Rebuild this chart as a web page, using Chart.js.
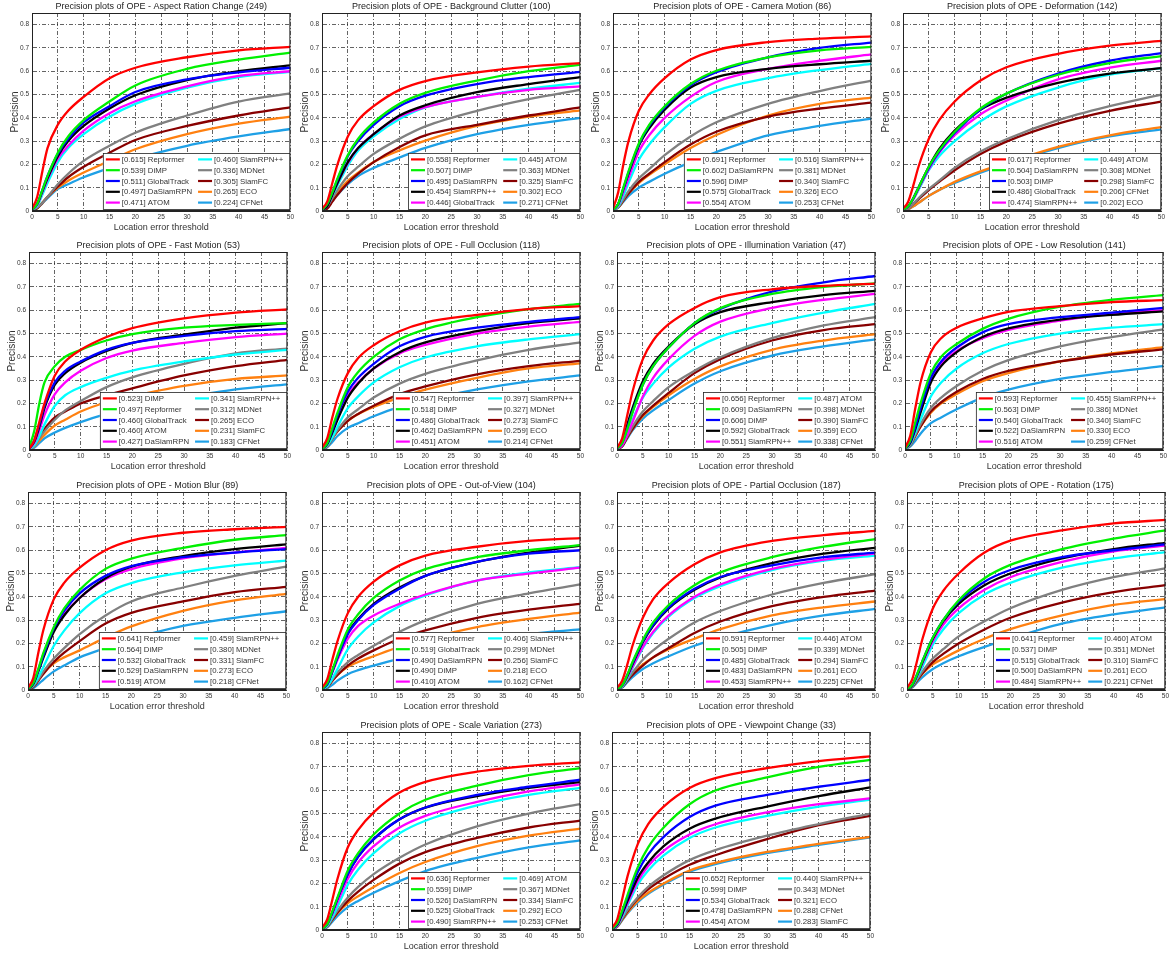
<!DOCTYPE html>
<html lang="en">
<head>
<meta charset="UTF-8" />
<title>Precision plots of OPE</title>
<script src="https://cdn.jsdelivr.net/npm/chart.js"></script>
<style>
  body { margin: 0; background: #fff; }
  #wrap { position: relative; width: 1172px; height: 957px; overflow: hidden; }
  #wrap canvas { position: absolute; }
</style>
</head>
<body>
<div id="wrap"></div>
<script>
const thresholds = [0, 1, 2, 3, 5, 7, 10, 15, 20, 30, 40, 50];

const titles = [
  'Aspect Ration Change (249)', 'Background Clutter (100)', 'Camera Motion (86)', 'Deformation (142)',
  'Fast Motion (53)', 'Full Occlusion (118)', 'Illumination Variation (47)', 'Low Resolution (141)',
  'Motion Blur (89)', 'Out-of-View (104)', 'Partial Occlusion (187)', 'Rotation (175)',
  'Scale Variation (273)', 'Viewpoint Change (33)'
];

// Aspect Ration Change
const arcNames = ['Repformer', 'DiMP', 'GlobalTrack', 'DaSiamRPN', 'ATOM', 'SiamRPN++', 'MDNet', 'SiamFC', 'ECO', 'CFNet'];
const arcScores = [0.615, 0.539, 0.511, 0.497, 0.471, 0.460, 0.336, 0.305, 0.265, 0.224];
const arcCurves = [
  [0.01, 0.06, 0.17, 0.27, 0.37, 0.43, 0.49, 0.57, 0.615, 0.66, 0.69, 0.705],
  [0.005, 0.03, 0.09, 0.15, 0.25, 0.32, 0.39, 0.47, 0.539, 0.61, 0.65, 0.68],
  [0.005, 0.03, 0.09, 0.15, 0.245, 0.31, 0.38, 0.45, 0.511, 0.565, 0.595, 0.615],
  [0.005, 0.03, 0.085, 0.14, 0.235, 0.30, 0.365, 0.44, 0.497, 0.562, 0.60, 0.625],
  [0.005, 0.025, 0.08, 0.135, 0.225, 0.28, 0.345, 0.42, 0.471, 0.535, 0.58, 0.60],
  [0.005, 0.02, 0.07, 0.12, 0.21, 0.27, 0.33, 0.405, 0.46, 0.53, 0.575, 0.597],
  [0.005, 0.015, 0.035, 0.06, 0.115, 0.16, 0.215, 0.28, 0.336, 0.41, 0.47, 0.505],
  [0.005, 0.012, 0.035, 0.06, 0.105, 0.145, 0.19, 0.25, 0.305, 0.365, 0.41, 0.445],
  [0.005, 0.012, 0.035, 0.06, 0.1, 0.13, 0.165, 0.215, 0.265, 0.33, 0.375, 0.405],
  [0.005, 0.012, 0.033, 0.055, 0.095, 0.115, 0.145, 0.185, 0.224, 0.28, 0.32, 0.352]
];

// Background Clutter
const bcNames = ['Repformer', 'DiMP', 'DaSiamRPN', 'SiamRPN++', 'GlobalTrack', 'ATOM', 'MDNet', 'SiamFC', 'ECO', 'CFNet'];
const bcScores = [0.558, 0.507, 0.495, 0.454, 0.446, 0.445, 0.363, 0.325, 0.302, 0.271];
const bcCurves = [
  [0.01, 0.04, 0.12, 0.2, 0.32, 0.39, 0.45, 0.52, 0.558, 0.595, 0.62, 0.635],
  [0.005, 0.03, 0.08, 0.14, 0.24, 0.31, 0.38, 0.46, 0.507, 0.56, 0.60, 0.628],
  [0.005, 0.03, 0.08, 0.135, 0.235, 0.30, 0.37, 0.45, 0.495, 0.545, 0.575, 0.597],
  [0.005, 0.02, 0.07, 0.12, 0.21, 0.27, 0.33, 0.41, 0.454, 0.51, 0.545, 0.575],
  [0.005, 0.02, 0.07, 0.12, 0.205, 0.27, 0.33, 0.405, 0.446, 0.49, 0.52, 0.535],
  [0.005, 0.02, 0.065, 0.11, 0.195, 0.26, 0.32, 0.395, 0.445, 0.49, 0.525, 0.55],
  [0.005, 0.02, 0.055, 0.09, 0.15, 0.19, 0.245, 0.31, 0.363, 0.43, 0.48, 0.52],
  [0.005, 0.01, 0.04, 0.07, 0.12, 0.16, 0.21, 0.275, 0.325, 0.37, 0.41, 0.445],
  [0.005, 0.02, 0.05, 0.08, 0.13, 0.165, 0.21, 0.26, 0.302, 0.365, 0.405, 0.432],
  [0.005, 0.015, 0.045, 0.07, 0.115, 0.15, 0.185, 0.23, 0.271, 0.33, 0.37, 0.40]
];

// Camera Motion
const cmNames = ['Repformer', 'DaSiamRPN', 'DiMP', 'GlobalTrack', 'ATOM', 'SiamRPN++', 'MDNet', 'SiamFC', 'ECO', 'CFNet'];
const cmScores = [0.691, 0.602, 0.596, 0.575, 0.554, 0.516, 0.381, 0.340, 0.326, 0.253];
const cmCurves = [
  [0.01, 0.08, 0.2, 0.3, 0.43, 0.50, 0.57, 0.65, 0.691, 0.725, 0.74, 0.75],
  [0.005, 0.03, 0.10, 0.17, 0.29, 0.37, 0.45, 0.545, 0.602, 0.66, 0.69, 0.705],
  [0.005, 0.03, 0.095, 0.165, 0.285, 0.365, 0.445, 0.54, 0.596, 0.66, 0.70, 0.723],
  [0.005, 0.03, 0.095, 0.16, 0.28, 0.355, 0.435, 0.53, 0.575, 0.61, 0.63, 0.645],
  [0.005, 0.025, 0.08, 0.14, 0.255, 0.325, 0.40, 0.49, 0.554, 0.61, 0.645, 0.672],
  [0.005, 0.02, 0.065, 0.12, 0.22, 0.285, 0.36, 0.46, 0.516, 0.57, 0.605, 0.632],
  [0.005, 0.015, 0.05, 0.085, 0.14, 0.18, 0.24, 0.32, 0.381, 0.46, 0.515, 0.56],
  [0.005, 0.015, 0.045, 0.075, 0.125, 0.16, 0.21, 0.285, 0.34, 0.405, 0.44, 0.465],
  [0.005, 0.015, 0.045, 0.075, 0.12, 0.155, 0.20, 0.27, 0.326, 0.41, 0.46, 0.487],
  [0.005, 0.015, 0.04, 0.065, 0.1, 0.125, 0.16, 0.21, 0.253, 0.325, 0.365, 0.397]
];

// Deformation
const defNames = ['Repformer', 'DaSiamRPN', 'DiMP', 'GlobalTrack', 'SiamRPN++', 'ATOM', 'MDNet', 'SiamFC', 'CFNet', 'ECO'];
const defScores = [0.617, 0.504, 0.503, 0.486, 0.474, 0.449, 0.308, 0.298, 0.206, 0.202];
const defCurves = [
  [0.01, 0.04, 0.11, 0.19, 0.31, 0.39, 0.47, 0.56, 0.617, 0.675, 0.71, 0.73],
  [0.005, 0.02, 0.055, 0.10, 0.19, 0.26, 0.34, 0.44, 0.504, 0.585, 0.635, 0.665],
  [0.005, 0.02, 0.055, 0.10, 0.185, 0.255, 0.335, 0.435, 0.503, 0.59, 0.645, 0.678],
  [0.005, 0.02, 0.055, 0.10, 0.19, 0.265, 0.345, 0.435, 0.486, 0.55, 0.59, 0.613],
  [0.005, 0.02, 0.05, 0.095, 0.18, 0.25, 0.325, 0.415, 0.474, 0.565, 0.615, 0.645],
  [0.005, 0.02, 0.05, 0.09, 0.175, 0.235, 0.30, 0.385, 0.449, 0.53, 0.585, 0.613],
  [0.005, 0.01, 0.03, 0.055, 0.095, 0.13, 0.185, 0.255, 0.308, 0.39, 0.45, 0.50],
  [0.005, 0.01, 0.03, 0.05, 0.09, 0.125, 0.175, 0.245, 0.298, 0.375, 0.43, 0.47],
  [0.003, 0.008, 0.02, 0.035, 0.065, 0.09, 0.125, 0.17, 0.206, 0.275, 0.325, 0.36],
  [0.003, 0.008, 0.02, 0.035, 0.065, 0.09, 0.12, 0.165, 0.202, 0.27, 0.32, 0.35]
];

// Fast Motion
const fmNames = ['DiMP', 'Repformer', 'GlobalTrack', 'ATOM', 'DaSiamRPN', 'SiamRPN++', 'MDNet', 'ECO', 'SiamFC', 'CFNet'];
const fmScores = [0.523, 0.497, 0.460, 0.460, 0.427, 0.341, 0.312, 0.265, 0.231, 0.183];
const fmCurves = [
  [0.005, 0.04, 0.12, 0.2, 0.32, 0.38, 0.43, 0.485, 0.523, 0.565, 0.59, 0.604],
  [0.01, 0.08, 0.2, 0.29, 0.36, 0.40, 0.43, 0.47, 0.497, 0.525, 0.537, 0.545],
  [0.005, 0.04, 0.11, 0.19, 0.29, 0.34, 0.38, 0.43, 0.46, 0.49, 0.51, 0.52],
  [0.005, 0.035, 0.10, 0.18, 0.28, 0.33, 0.375, 0.425, 0.46, 0.495, 0.525, 0.545],
  [0.005, 0.03, 0.085, 0.15, 0.24, 0.29, 0.34, 0.395, 0.427, 0.46, 0.485, 0.50],
  [0.005, 0.02, 0.06, 0.11, 0.19, 0.235, 0.27, 0.31, 0.341, 0.38, 0.41, 0.43],
  [0.005, 0.015, 0.05, 0.08, 0.13, 0.17, 0.21, 0.27, 0.312, 0.37, 0.415, 0.435],
  [0.005, 0.02, 0.055, 0.09, 0.14, 0.165, 0.20, 0.235, 0.265, 0.32, 0.36, 0.387],
  [0.005, 0.015, 0.04, 0.065, 0.105, 0.13, 0.165, 0.205, 0.231, 0.275, 0.305, 0.32],
  [0.003, 0.01, 0.03, 0.05, 0.075, 0.095, 0.12, 0.155, 0.183, 0.225, 0.26, 0.282]
];

// Full Occlusion
const foNames = ['Repformer', 'DiMP', 'GlobalTrack', 'DaSiamRPN', 'ATOM', 'SiamRPN++', 'MDNet', 'SiamFC', 'ECO', 'CFNet'];
const foScores = [0.547, 0.518, 0.486, 0.462, 0.451, 0.397, 0.327, 0.273, 0.259, 0.214];
const foCurves = [
  [0.01, 0.05, 0.14, 0.22, 0.33, 0.395, 0.45, 0.51, 0.547, 0.58, 0.605, 0.618],
  [0.005, 0.03, 0.095, 0.16, 0.27, 0.335, 0.40, 0.475, 0.518, 0.57, 0.605, 0.627],
  [0.005, 0.03, 0.085, 0.15, 0.25, 0.31, 0.37, 0.445, 0.486, 0.525, 0.55, 0.57],
  [0.005, 0.025, 0.075, 0.13, 0.225, 0.285, 0.35, 0.42, 0.462, 0.51, 0.545, 0.565],
  [0.005, 0.03, 0.08, 0.14, 0.235, 0.29, 0.35, 0.415, 0.451, 0.50, 0.53, 0.55],
  [0.005, 0.02, 0.055, 0.10, 0.18, 0.23, 0.29, 0.355, 0.397, 0.445, 0.475, 0.497],
  [0.005, 0.015, 0.05, 0.085, 0.14, 0.175, 0.225, 0.285, 0.327, 0.385, 0.43, 0.462],
  [0.005, 0.015, 0.05, 0.08, 0.125, 0.155, 0.19, 0.24, 0.273, 0.325, 0.36, 0.383],
  [0.005, 0.015, 0.05, 0.08, 0.125, 0.155, 0.185, 0.225, 0.259, 0.31, 0.35, 0.372],
  [0.003, 0.012, 0.035, 0.06, 0.095, 0.115, 0.145, 0.185, 0.214, 0.26, 0.295, 0.32]
];

// Illumination Variation
const ivNames = ['Repformer', 'DaSiamRPN', 'DiMP', 'GlobalTrack', 'SiamRPN++', 'ATOM', 'MDNet', 'SiamFC', 'ECO', 'CFNet'];
const ivScores = [0.656, 0.609, 0.606, 0.592, 0.551, 0.487, 0.398, 0.390, 0.359, 0.338];
const ivCurves = [
  [0.01, 0.05, 0.15, 0.25, 0.39, 0.47, 0.54, 0.61, 0.656, 0.69, 0.705, 0.714],
  [0.005, 0.03, 0.09, 0.16, 0.28, 0.36, 0.44, 0.545, 0.609, 0.67, 0.70, 0.715],
  [0.005, 0.03, 0.095, 0.165, 0.28, 0.36, 0.44, 0.545, 0.606, 0.68, 0.72, 0.747],
  [0.005, 0.04, 0.11, 0.18, 0.295, 0.37, 0.445, 0.54, 0.592, 0.635, 0.665, 0.683],
  [0.005, 0.02, 0.065, 0.12, 0.23, 0.31, 0.39, 0.49, 0.551, 0.61, 0.645, 0.67],
  [0.005, 0.025, 0.075, 0.13, 0.225, 0.285, 0.355, 0.435, 0.487, 0.545, 0.59, 0.627],
  [0.005, 0.02, 0.06, 0.1, 0.165, 0.21, 0.27, 0.34, 0.398, 0.48, 0.535, 0.57],
  [0.005, 0.015, 0.055, 0.09, 0.15, 0.19, 0.245, 0.33, 0.39, 0.47, 0.515, 0.54],
  [0.005, 0.02, 0.055, 0.09, 0.145, 0.185, 0.235, 0.305, 0.359, 0.43, 0.47, 0.497],
  [0.005, 0.015, 0.05, 0.085, 0.135, 0.17, 0.215, 0.285, 0.338, 0.405, 0.445, 0.475]
];

// Low Resolution
const lrNames = ['Repformer', 'DiMP', 'GlobalTrack', 'DaSiamRPN', 'ATOM', 'SiamRPN++', 'MDNet', 'SiamFC', 'ECO', 'CFNet'];
const lrScores = [0.593, 0.563, 0.540, 0.522, 0.516, 0.455, 0.386, 0.340, 0.330, 0.259];
const lrCurves = [
  [0.01, 0.06, 0.18, 0.29, 0.42, 0.48, 0.525, 0.565, 0.593, 0.618, 0.635, 0.643],
  [0.005, 0.04, 0.12, 0.2, 0.33, 0.40, 0.455, 0.52, 0.563, 0.615, 0.645, 0.665],
  [0.005, 0.035, 0.10, 0.18, 0.31, 0.38, 0.44, 0.505, 0.54, 0.57, 0.59, 0.61],
  [0.005, 0.03, 0.09, 0.16, 0.29, 0.36, 0.42, 0.485, 0.522, 0.56, 0.58, 0.595],
  [0.005, 0.03, 0.095, 0.17, 0.305, 0.37, 0.425, 0.48, 0.516, 0.555, 0.585, 0.60],
  [0.005, 0.025, 0.075, 0.13, 0.23, 0.29, 0.35, 0.415, 0.455, 0.50, 0.525, 0.54],
  [0.005, 0.02, 0.065, 0.11, 0.18, 0.225, 0.275, 0.34, 0.386, 0.445, 0.485, 0.518],
  [0.005, 0.02, 0.06, 0.1, 0.165, 0.205, 0.25, 0.305, 0.34, 0.38, 0.41, 0.432],
  [0.005, 0.02, 0.06, 0.1, 0.16, 0.2, 0.24, 0.295, 0.33, 0.38, 0.415, 0.442],
  [0.005, 0.015, 0.04, 0.07, 0.115, 0.14, 0.175, 0.225, 0.259, 0.305, 0.335, 0.36]
];

// Motion Blur
const mbNames = ['Repformer', 'DiMP', 'GlobalTrack', 'DaSiamRPN', 'ATOM', 'SiamRPN++', 'MDNet', 'SiamFC', 'ECO', 'CFNet'];
const mbScores = [0.641, 0.564, 0.532, 0.529, 0.519, 0.459, 0.380, 0.331, 0.273, 0.218];
const mbCurves = [
  [0.01, 0.05, 0.16, 0.26, 0.39, 0.46, 0.525, 0.60, 0.641, 0.675, 0.69, 0.70],
  [0.005, 0.03, 0.09, 0.16, 0.27, 0.35, 0.43, 0.52, 0.564, 0.61, 0.645, 0.665],
  [0.005, 0.03, 0.085, 0.15, 0.265, 0.34, 0.415, 0.49, 0.532, 0.57, 0.59, 0.605],
  [0.005, 0.025, 0.08, 0.14, 0.25, 0.32, 0.395, 0.48, 0.529, 0.575, 0.605, 0.625],
  [0.005, 0.03, 0.09, 0.155, 0.26, 0.325, 0.395, 0.475, 0.519, 0.565, 0.59, 0.61],
  [0.005, 0.02, 0.055, 0.1, 0.19, 0.255, 0.33, 0.415, 0.459, 0.505, 0.535, 0.555],
  [0.005, 0.015, 0.045, 0.08, 0.135, 0.18, 0.24, 0.32, 0.38, 0.44, 0.49, 0.53],
  [0.005, 0.012, 0.04, 0.07, 0.12, 0.16, 0.21, 0.285, 0.331, 0.38, 0.42, 0.443],
  [0.005, 0.015, 0.045, 0.075, 0.115, 0.14, 0.17, 0.225, 0.273, 0.34, 0.385, 0.413],
  [0.003, 0.008, 0.025, 0.045, 0.08, 0.105, 0.14, 0.18, 0.218, 0.275, 0.31, 0.338]
];

// Out-of-View
const ovNames = ['Repformer', 'GlobalTrack', 'DaSiamRPN', 'DiMP', 'ATOM', 'SiamRPN++', 'MDNet', 'SiamFC', 'ECO', 'CFNet'];
const ovScores = [0.577, 0.519, 0.490, 0.490, 0.410, 0.406, 0.299, 0.256, 0.218, 0.162];
const ovCurves = [
  [0.01, 0.045, 0.13, 0.21, 0.33, 0.40, 0.465, 0.535, 0.577, 0.615, 0.64, 0.652],
  [0.005, 0.03, 0.085, 0.15, 0.26, 0.325, 0.395, 0.47, 0.519, 0.57, 0.60, 0.622],
  [0.005, 0.025, 0.08, 0.14, 0.24, 0.30, 0.365, 0.435, 0.49, 0.55, 0.585, 0.60],
  [0.005, 0.025, 0.08, 0.14, 0.245, 0.305, 0.37, 0.44, 0.49, 0.55, 0.59, 0.62],
  [0.005, 0.025, 0.075, 0.13, 0.22, 0.275, 0.32, 0.37, 0.41, 0.47, 0.50, 0.525],
  [0.005, 0.015, 0.05, 0.09, 0.175, 0.23, 0.29, 0.36, 0.406, 0.47, 0.505, 0.527],
  [0.005, 0.015, 0.045, 0.075, 0.12, 0.15, 0.19, 0.25, 0.299, 0.37, 0.415, 0.453],
  [0.005, 0.012, 0.04, 0.065, 0.105, 0.135, 0.17, 0.22, 0.256, 0.31, 0.345, 0.37],
  [0.005, 0.012, 0.04, 0.065, 0.1, 0.12, 0.145, 0.185, 0.218, 0.27, 0.305, 0.332],
  [0.003, 0.007, 0.022, 0.04, 0.068, 0.085, 0.105, 0.135, 0.162, 0.20, 0.24, 0.26]
];

// Partial Occlusion
const poNames = ['Repformer', 'DiMP', 'GlobalTrack', 'DaSiamRPN', 'SiamRPN++', 'ATOM', 'MDNet', 'SiamFC', 'ECO', 'CFNet'];
const poScores = [0.591, 0.505, 0.485, 0.483, 0.453, 0.446, 0.339, 0.294, 0.261, 0.225];
const poCurves = [
  [0.01, 0.04, 0.11, 0.19, 0.31, 0.39, 0.46, 0.54, 0.591, 0.64, 0.665, 0.683],
  [0.005, 0.02, 0.065, 0.12, 0.215, 0.29, 0.365, 0.45, 0.505, 0.57, 0.615, 0.648],
  [0.005, 0.02, 0.065, 0.115, 0.21, 0.28, 0.355, 0.435, 0.485, 0.535, 0.57, 0.59],
  [0.005, 0.02, 0.06, 0.11, 0.205, 0.275, 0.35, 0.43, 0.483, 0.545, 0.585, 0.61],
  [0.005, 0.018, 0.055, 0.1, 0.185, 0.25, 0.32, 0.40, 0.453, 0.52, 0.56, 0.585],
  [0.005, 0.015, 0.05, 0.095, 0.18, 0.245, 0.315, 0.395, 0.446, 0.515, 0.555, 0.577],
  [0.005, 0.015, 0.045, 0.075, 0.13, 0.17, 0.22, 0.29, 0.339, 0.41, 0.46, 0.497],
  [0.005, 0.012, 0.04, 0.065, 0.105, 0.14, 0.18, 0.245, 0.294, 0.36, 0.40, 0.427],
  [0.005, 0.015, 0.045, 0.07, 0.11, 0.14, 0.175, 0.22, 0.261, 0.32, 0.355, 0.38],
  [0.003, 0.01, 0.033, 0.055, 0.09, 0.115, 0.145, 0.19, 0.225, 0.28, 0.32, 0.348]
];

// Rotation
const rotNames = ['Repformer', 'DiMP', 'GlobalTrack', 'DaSiamRPN', 'SiamRPN++', 'ATOM', 'MDNet', 'SiamFC', 'ECO', 'CFNet'];
const rotScores = [0.641, 0.537, 0.515, 0.500, 0.484, 0.460, 0.351, 0.310, 0.261, 0.221];
const rotCurves = [
  [0.01, 0.045, 0.13, 0.22, 0.35, 0.425, 0.50, 0.59, 0.641, 0.685, 0.715, 0.73],
  [0.005, 0.022, 0.07, 0.125, 0.225, 0.30, 0.385, 0.48, 0.537, 0.605, 0.65, 0.685],
  [0.005, 0.022, 0.07, 0.125, 0.225, 0.30, 0.38, 0.465, 0.515, 0.57, 0.60, 0.625],
  [0.005, 0.02, 0.065, 0.12, 0.22, 0.295, 0.37, 0.45, 0.50, 0.565, 0.605, 0.632],
  [0.005, 0.02, 0.062, 0.115, 0.21, 0.28, 0.35, 0.43, 0.484, 0.55, 0.595, 0.62],
  [0.005, 0.017, 0.055, 0.1, 0.195, 0.26, 0.33, 0.41, 0.46, 0.525, 0.565, 0.592],
  [0.005, 0.015, 0.048, 0.08, 0.135, 0.175, 0.23, 0.295, 0.351, 0.43, 0.485, 0.522],
  [0.005, 0.013, 0.043, 0.072, 0.12, 0.155, 0.20, 0.26, 0.31, 0.375, 0.42, 0.45],
  [0.005, 0.013, 0.042, 0.07, 0.11, 0.135, 0.17, 0.22, 0.261, 0.32, 0.365, 0.39],
  [0.003, 0.01, 0.033, 0.055, 0.09, 0.115, 0.145, 0.185, 0.221, 0.285, 0.325, 0.355]
];

// Scale Variation
const svNames = ['Repformer', 'DiMP', 'DaSiamRPN', 'GlobalTrack', 'SiamRPN++', 'ATOM', 'MDNet', 'SiamFC', 'ECO', 'CFNet'];
const svScores = [0.636, 0.559, 0.526, 0.525, 0.490, 0.469, 0.367, 0.334, 0.292, 0.253];
const svCurves = [
  [0.01, 0.045, 0.13, 0.22, 0.355, 0.43, 0.505, 0.59, 0.636, 0.68, 0.705, 0.72],
  [0.005, 0.025, 0.08, 0.14, 0.255, 0.33, 0.41, 0.50, 0.559, 0.62, 0.665, 0.695],
  [0.005, 0.025, 0.075, 0.135, 0.24, 0.315, 0.39, 0.475, 0.526, 0.58, 0.615, 0.645],
  [0.005, 0.025, 0.075, 0.135, 0.24, 0.315, 0.39, 0.475, 0.525, 0.575, 0.61, 0.635],
  [0.005, 0.022, 0.068, 0.12, 0.22, 0.29, 0.36, 0.44, 0.49, 0.55, 0.595, 0.625],
  [0.005, 0.018, 0.055, 0.1, 0.195, 0.26, 0.33, 0.415, 0.469, 0.535, 0.58, 0.61],
  [0.005, 0.015, 0.05, 0.083, 0.14, 0.185, 0.24, 0.31, 0.367, 0.445, 0.50, 0.54],
  [0.005, 0.014, 0.045, 0.075, 0.125, 0.165, 0.215, 0.285, 0.334, 0.395, 0.44, 0.47],
  [0.005, 0.014, 0.044, 0.072, 0.115, 0.145, 0.185, 0.245, 0.292, 0.36, 0.405, 0.435],
  [0.003, 0.011, 0.036, 0.06, 0.098, 0.125, 0.16, 0.21, 0.253, 0.31, 0.355, 0.385]
];

// Viewpoint Change
const vcNames = ['Repformer', 'DiMP', 'GlobalTrack', 'DaSiamRPN', 'ATOM', 'SiamRPN++', 'MDNet', 'ECO', 'CFNet', 'SiamFC'];
const vcScores = [0.652, 0.599, 0.534, 0.478, 0.454, 0.440, 0.343, 0.321, 0.288, 0.283];
const vcCurves = [
  [0.01, 0.045, 0.135, 0.23, 0.37, 0.455, 0.53, 0.61, 0.652, 0.695, 0.725, 0.745],
  [0.005, 0.028, 0.085, 0.15, 0.27, 0.355, 0.44, 0.54, 0.599, 0.655, 0.70, 0.73],
  [0.005, 0.025, 0.078, 0.14, 0.25, 0.325, 0.40, 0.485, 0.534, 0.58, 0.615, 0.645],
  [0.005, 0.022, 0.07, 0.125, 0.225, 0.29, 0.36, 0.435, 0.478, 0.53, 0.575, 0.612],
  [0.005, 0.02, 0.065, 0.115, 0.21, 0.275, 0.34, 0.41, 0.454, 0.505, 0.54, 0.565],
  [0.005, 0.018, 0.058, 0.105, 0.195, 0.255, 0.32, 0.395, 0.44, 0.49, 0.53, 0.56],
  [0.005, 0.016, 0.05, 0.085, 0.14, 0.185, 0.235, 0.30, 0.343, 0.405, 0.455, 0.50],
  [0.005, 0.015, 0.048, 0.08, 0.135, 0.175, 0.22, 0.28, 0.321, 0.39, 0.45, 0.49],
  [0.005, 0.014, 0.045, 0.075, 0.125, 0.16, 0.20, 0.255, 0.288, 0.335, 0.37, 0.40],
  [0.005, 0.013, 0.043, 0.072, 0.12, 0.155, 0.195, 0.25, 0.283, 0.33, 0.365, 0.398]
];

const plots = [
  [arcNames, arcScores, arcCurves], [bcNames, bcScores, bcCurves], [cmNames, cmScores, cmCurves], [defNames, defScores, defCurves],
  [fmNames, fmScores, fmCurves], [foNames, foScores, foCurves], [ivNames, ivScores, ivCurves], [lrNames, lrScores, lrCurves],
  [mbNames, mbScores, mbCurves], [ovNames, ovScores, ovCurves], [poNames, poScores, poCurves], [rotNames, rotScores, rotCurves],
  [svNames, svScores, svCurves], [vcNames, vcScores, vcCurves]
];

// canvas position of each panel (left, top)
const cells = [
  [0, 0], [290, 0], [581, 0], [871, 0],
  [-3, 239], [290, 239], [585, 239], [873, 239],
  [-4, 479], [290, 479], [585, 479], [875, 479],
  [290, 719], [580, 719]
];

// colour by rank, same in every panel
const lineColors = ['#ff0000', '#00f000', '#0000ff', '#000000', '#ff00ff', '#00ffff', '#808080', '#880000', '#ff8010', '#1ea0e6'];

const FONT = "'Liberation Sans', Arial, sans-serif";
Chart.defaults.font.family = FONT;

// axes box + title centred over the plot area
const framePlugin = {
  id: 'frame',
  afterDatasetsDraw(chart, args, opts) {
    const { ctx, chartArea: a } = chart;
    ctx.save();
    ctx.strokeStyle = '#222';
    ctx.lineWidth = 1;
    ctx.strokeRect(a.left + 0.5, a.top + 0.5, a.right - a.left - 1, a.bottom - a.top - 1);
    ctx.fillStyle = '#222';
    ctx.font = '9px ' + FONT;
    ctx.textAlign = 'center';
    ctx.textBaseline = 'middle';
    ctx.fillText(opts.text, (a.left + a.right) / 2, a.top - 6.5);
    ctx.restore();
  }
};

// two column legend in the lower right corner of the plot area
const boxLegend = {
  id: 'boxLegend',
  afterDatasetsDraw(chart) {
    const { ctx, chartArea: a } = chart;
    const sets = chart.data.datasets;
    const rowH = 10.8, lineLen = 14;
    ctx.save();
    ctx.font = '7.8px ' + FONT;
    const colW = [0, 1].map(c => 16 + Math.max(...sets.slice(c * 5, c * 5 + 5).map(d => ctx.measureText(d.label).width)) + 6);
    const w = 3 + colW[0] + colW[1];
    const h = rowH * 5 + 2;
    const x0 = a.right - 1 - w, y0 = a.bottom - 2 - h;
    ctx.fillStyle = '#fff';
    ctx.fillRect(x0, y0, w, h);
    ctx.strokeStyle = '#222';
    ctx.lineWidth = 0.8;
    ctx.strokeRect(x0 + 0.5, y0 + 0.5, w, h);
    ctx.textBaseline = 'middle';
    sets.forEach((d, i) => {
      const c = Math.floor(i / 5), r = i % 5;
      const x = x0 + 3 + (c ? colW[0] : 0);
      const y = y0 + 1 + rowH * (r + 0.5);
      ctx.strokeStyle = d.borderColor;
      ctx.lineWidth = 2.2;
      ctx.beginPath();
      ctx.moveTo(x, y);
      ctx.lineTo(x + lineLen, y);
      ctx.stroke();
      ctx.fillStyle = '#333';
      ctx.fillText(d.label, x + 16, y + 0.5);
    });
    ctx.restore();
  }
};

const wrap = document.getElementById('wrap');

plots.forEach(([names, scores, curves], k) => {
  const canvas = document.createElement('canvas');
  canvas.width = 296;
  canvas.height = 237;
  canvas.style.left = cells[k][0] + 'px';
  canvas.style.top = cells[k][1] + 'px';
  wrap.appendChild(canvas);

  new Chart(canvas, {
    type: 'line',
    data: {
      datasets: curves.map((c, i) => ({
        label: '[' + scores[i].toFixed(3) + '] ' + names[i],
        data: thresholds.map((t, j) => ({ x: t, y: c[j] })),
        borderColor: lineColors[i],
        borderWidth: 2.3,
        pointRadius: 0,
        cubicInterpolationMode: 'monotone',
        fill: false
      }))
    },
    options: {
      responsive: false,
      animation: false,
      events: [],
      layout: { padding: { top: 13, right: 3, left: 0, bottom: 0 } },
      plugins: {
        legend: { display: false },
        tooltip: { enabled: false },
        frame: { text: 'Precision plots of OPE - ' + titles[k] }
      },
      scales: {
        x: {
          type: 'linear', min: 0, max: 50,
          ticks: { stepSize: 5, font: { size: 6.5 }, color: '#333', padding: 2, maxRotation: 0, autoSkip: false },
          grid: { color: 'rgba(25,25,25,0.9)', lineWidth: 0.75, drawTicks: false },
          border: { color: '#222', dash: [4, 2, 1, 2] },
          title: { display: true, text: 'Location error threshold', font: { size: 9 }, color: '#333', padding: { top: 0, bottom: 4 } },
          afterFit: s => { s.height = 26; }
        },
        y: {
          min: 0, max: 0.85,
          ticks: { stepSize: 0.1, font: { size: 6.5 }, color: '#333', padding: 3, callback: v => v === 0 ? '0' : v.toFixed(1) },
          afterBuildTicks: s => { s.ticks = s.ticks.filter(t => t.value < 0.81); },
          grid: { color: 'rgba(25,25,25,0.9)', lineWidth: 0.75, drawTicks: false },
          border: { color: '#222', dash: [4, 2, 1, 2] },
          title: { display: true, text: 'Precision', font: { size: 10 }, color: '#333', padding: { top: 9, bottom: 0 } },
          afterFit: s => { s.width = 32; }
        }
      }
    },
    plugins: [framePlugin, boxLegend]
  });
});
</script>
</body>
</html>
